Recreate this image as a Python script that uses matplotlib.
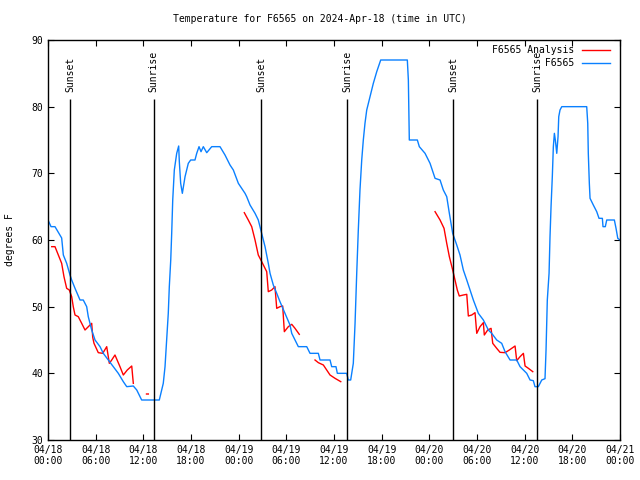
import matplotlib
matplotlib.use('Agg')
import matplotlib.pyplot as plt
import matplotlib.dates as mdates
import numpy as np
import pandas as pd

start = pd.Timestamp('2024-04-18 00:00')

# Observed station temperature (hours since start, deg F)
obs_hours = [0.0, 0.38, 0.88, 1.72, 1.93, 2.35, 2.77, 2.98, 3.40, 4.03, 4.44, 4.87, 5.07, 5.50, 5.92,
             6.55, 6.96, 7.59, 8.85, 9.48, 9.91, 10.74, 11.17, 11.79, 14.01, 14.51, 14.73, 14.94, 15.14,
             15.27, 15.45, 15.57, 15.70, 15.90, 16.20, 16.45, 16.53, 16.70, 16.91, 17.25, 17.66, 17.96,
             18.50, 18.72, 19.01, 19.26, 19.55, 19.98, 20.61, 21.65, 22.28, 22.91, 23.33, 23.96, 24.80,
             25.01, 25.43, 26.06, 26.47, 26.90, 27.32, 27.73, 27.95, 28.36, 28.79, 29.20, 29.83, 30.46,
             30.68, 31.51, 32.57, 32.98, 34.03, 34.24, 35.50, 35.71, 36.25, 36.42, 37.60, 37.80, 38.10,
             38.43, 38.65, 38.86, 39.06, 39.27, 39.49, 39.69, 39.90, 40.12, 40.53, 40.95, 41.38, 41.88,
             45.23, 45.36, 45.44, 45.48, 46.49, 46.74, 47.46, 48.09, 48.72, 49.35, 49.76, 50.19, 50.52,
             50.94, 51.45, 51.86, 52.28, 52.71, 53.12, 53.54, 54.17, 54.80, 55.43, 55.85, 56.48, 57.11,
             57.53, 58.16, 59.00, 59.42, 60.26, 60.68, 61.09, 61.30, 61.72, 62.15, 62.56, 62.69, 62.85,
             63.07, 63.19, 63.32, 63.48, 63.61, 63.74, 63.86, 64.04, 64.20, 64.29, 64.45, 64.67, 67.81,
             67.94, 68.01, 68.14, 68.23, 68.64, 69.07, 69.36, 69.78, 69.86, 70.15, 70.33, 71.29, 71.50,
             71.72, 72.0]
obs_temp = [63, 62, 62, 60.3, 57.75, 56.5, 54.75, 54, 52.75, 51, 51, 50, 48.5, 46.5, 45,
            44, 43, 42, 40, 38.75, 38, 38.1, 37.5, 36, 36, 38.5, 41, 45, 49,
            53, 57, 61, 66, 70.5, 73, 74.1, 71.75, 68.5, 67, 69.5, 71.5, 72,
            72, 73, 74, 73.25, 74, 73.1, 74, 74, 72.75, 71.25, 70.5, 68.5, 67,
            66.5, 65.25, 64, 63, 61, 59, 56.5, 55, 53.25, 52, 50.75, 49, 47.25,
            46, 44, 44, 43, 43, 42, 42, 41, 41, 40, 40, 39, 39,
            41.5, 47.5, 55, 61.5, 67.5, 72, 75, 77.5, 79.5, 81.5, 83.5, 85.25, 87,
            87, 84, 78, 75, 75, 74, 73, 71.5, 69.25, 69, 67.5, 66.5, 64,
            61, 59.25, 57.75, 55.5, 54, 52.5, 51, 49, 48, 46.5, 46, 45, 44.5,
            43.25, 42, 42, 41, 40, 39, 38.9, 38, 38, 39, 39.2, 43.5, 51,
            55, 60.5, 65, 69.5, 74, 76, 75, 73, 75.5, 78.5, 79.5, 80, 80,
            77.5, 73, 68.5, 66.25, 65.25, 64.25, 63.25, 63.25, 62, 62, 63, 63, 61.75,
            60.25, 60]

# Analysis temperature (NaN separates segments)
ana_hours = [0.47, 0.88, 1.30, 1.72, 2.01, 2.35, 2.68, 2.98, 3.18, 3.40, 3.81, 4.24, 4.66, 5.29, 5.50,
             5.63, 5.79, 6.33, 6.89, 7.39, 7.72, 8.02, 8.43, 9.06, 9.48, 9.98, 10.54, 10.66, 10.74,
             11.5, 12.40, 12.63, 18.0,
             24.71, 25.21, 25.64, 26.06, 26.47, 26.90, 27.53, 27.73, 28.16, 28.57, 28.79, 29.20, 29.54,
             29.75, 30.25, 30.68, 31.09, 31.63, 32.5,
             33.61, 34.03, 34.66, 35.08, 35.50, 36.13, 36.85, 42.0,
             48.72, 49.35, 49.85, 50.19, 50.52, 50.94, 51.23, 51.52, 51.77, 52.28, 52.71, 52.91, 53.34,
             53.75, 53.97, 54.38, 54.80, 54.92, 55.35, 55.77, 55.98, 56.48, 56.90, 57.53, 58.07, 58.79,
             59.00, 59.42, 59.84, 60.05, 60.47, 61.02]
ana_temp = [59, 59, 57.75, 56.5, 54.5, 52.75, 52.5, 51.5, 50, 48.75, 48.5, 47.5, 46.5, 47.25, 47.5,
            45.4, 44.5, 43.1, 43, 44, 41.5, 42, 42.75, 41, 39.75, 40.5, 41.1, 39.5, 38.5,
            np.nan, 36.9, 36.9, np.nan,
            64.1, 63, 62, 60, 57.75, 56.75, 55.25, 52.25, 52.5, 53, 49.75, 50, 50.1,
            46.25, 47, 47.35, 46.75, 45.85, np.nan,
            42, 41.6, 41.25, 40.5, 39.75, 39.25, 38.75, np.nan,
            64.25, 63, 61.75, 59.5, 57.5, 55.5, 54, 52.5, 51.6, 51.75, 51.85, 48.6, 48.75,
            49.1, 46, 47, 47.6, 45.75, 46.5, 46.75, 44.5, 43.75, 43.15, 43.1, 43.5, 44.1,
            41.9, 42.5, 43, 41.1, 40.75, 40.25]

sun_hours = [2.77, 13.3, 26.8, 37.64, 50.98, 61.56]
sun_labels = ['Sunset', 'Sunrise', 'Sunset', 'Sunrise', 'Sunset', 'Sunrise']

def to_time(h):
    return start + pd.to_timedelta(np.asarray(h, dtype=float), unit='h')

plt.rcParams['font.family'] = ['DejaVu Sans Mono']
plt.rcParams['font.size'] = 7

fig = plt.figure(figsize=(6.4, 4.8), dpi=100)
ax = fig.add_axes([48/640, 40/480, 572/640, 400/480])

ax.plot(to_time(ana_hours), ana_temp, color='#ff0000', lw=1.0, label='F6565 Analysis')
ax.plot(to_time(obs_hours), obs_temp, color='#0a80ff', lw=1.0, label='         F6565')

for h, lab in zip(sun_hours, sun_labels):
    t = to_time([h])[0]
    ax.vlines(t, 30, 81.1, color='black', lw=1.0)
    ax.text(t, 82.2, lab, rotation=90, ha='center', va='bottom', fontsize=7)

ax.set_xlim(start, start + pd.Timedelta(hours=72))
ax.set_ylim(30, 90)
ax.set_yticks(np.arange(30, 91, 10))
ax.xaxis.set_major_locator(mdates.HourLocator(byhour=[0, 6, 12, 18]))
ax.xaxis.set_major_formatter(mdates.DateFormatter('%m/%d\n%H:%M'))
ax.tick_params(direction='in', top=True, right=True, length=4, width=0.8, labelsize=7)
for s in ax.spines.values():
    s.set_linewidth(1.0)

leg = ax.legend(loc='upper right', bbox_to_anchor=(1.0, 1.011), frameon=False, markerfirst=False,
                handlelength=2.9, fontsize=7, borderaxespad=0.6, labelspacing=0.3, handletextpad=0.8)

fig.text(0.5, 1 - 19/480, 'Temperature for F6565 on 2024-Apr-18 (time in UTC)',
         ha='center', va='center', fontsize=7)
fig.text(10/640, 0.5, 'degrees F', rotation=90, ha='center', va='center', fontsize=7)

fig.savefig('out.png', dpi=100)
